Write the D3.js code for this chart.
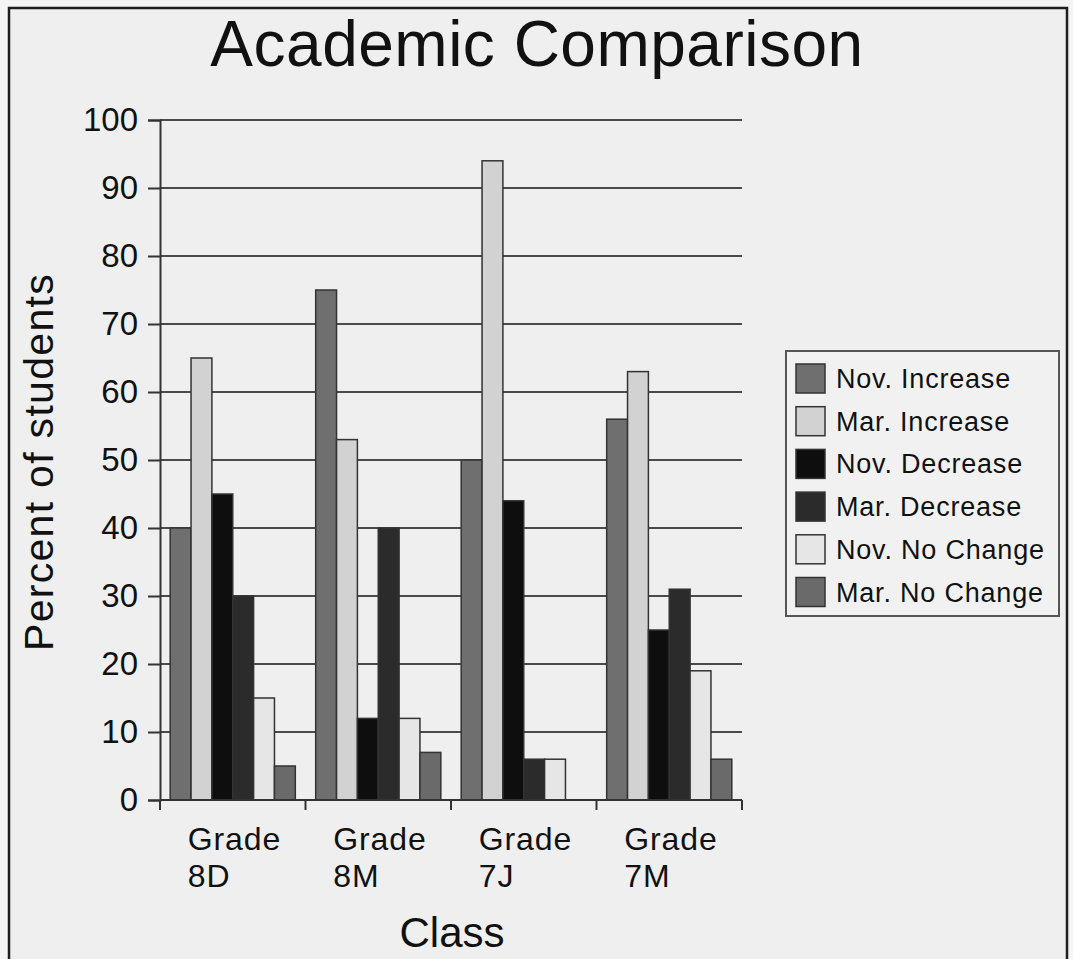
<!DOCTYPE html>
<html><head><meta charset="utf-8">
<script src="https://cdn.jsdelivr.net/npm/d3@7"></script>
<style>html,body{margin:0;padding:0;background:#fff;}svg{display:block;}</style>
</head><body>
<script>
const categories = ["Grade 8D", "Grade 8M", "Grade 7J", "Grade 7M"];
const seriesNames = ["Nov. Increase", "Mar. Increase", "Nov. Decrease", "Mar. Decrease", "Nov. No Change", "Mar. No Change"];
const novIncrease = [40, 75, 50, 56];
const marIncrease = [65, 53, 94, 63];
const novDecrease = [45, 12, 44, 25];
const marDecrease = [30, 40, 6, 31];
const novNoChange = [15, 12, 6, 19];
const marNoChange = [5, 7, 0, 6];
const yTicks = [0, 10, 20, 30, 40, 50, 60, 70, 80, 90, 100];
const seriesValues = [novIncrease, marIncrease, novDecrease, marDecrease, novNoChange, marNoChange];
const colors = ["#6f6f6f", "#d2d2d2", "#0e0e0e", "#2b2b2b", "#e6e6e6", "#6a6a6a"];

const W = 1073, H = 959;
const svg = d3.select("body").append("svg").attr("width", W).attr("height", H);
svg.append("rect").attr("x", 0).attr("y", 0).attr("width", W).attr("height", H).attr("fill", "#f4f4f4");
svg.append("rect").attr("x", 9).attr("y", 8).attr("width", 1058).attr("height", 960)
  .attr("fill", "#efefef").attr("stroke", "#1e1e1e").attr("stroke-width", 2.5);

const pL = 160, pR = 742, pT = 120, pB = 800;
const x0 = d3.scaleBand().domain(categories).range([pL, pR]).paddingInner(0.14).paddingOuter(0.07);
const x1 = d3.scaleBand().domain(seriesNames).range([0, x0.bandwidth()]);
const y = d3.scaleLinear().domain([0, 100]).range([pB, pT]);
const font = "'Liberation Sans', Arial, sans-serif";

// gridlines
svg.append("g").selectAll("line").data(yTicks.filter(d => d > 0)).join("line")
  .attr("x1", pL).attr("x2", pR).attr("y1", d => y(d)).attr("y2", d => y(d))
  .attr("stroke", "#4a4a4a").attr("stroke-width", 2);

// bars
const groups = svg.append("g").selectAll("g").data(categories).join("g")
  .attr("transform", c => `translate(${x0(c)},0)`);
groups.selectAll("rect").data((c, ci) => seriesNames.map((s, si) => ({s, si, v: seriesValues[si][ci]})))
  .join("rect")
  .attr("x", d => x1(d.s)).attr("width", x1.bandwidth())
  .attr("y", d => y(d.v)).attr("height", d => y(0) - y(d.v))
  .attr("fill", d => colors[d.si]).attr("stroke", "#333").attr("stroke-width", 1.5)
  .attr("display", d => d.v > 0 ? null : "none");

// y axis
const yAxis = d3.axisLeft(y).tickValues(yTicks).tickSize(12).tickPadding(10);
const ga = svg.append("g").attr("transform", `translate(${pL},0)`).call(yAxis);
ga.select(".domain").attr("stroke", "#333").attr("stroke-width", 2);
ga.selectAll(".tick line").attr("stroke", "#333").attr("stroke-width", 2);
ga.selectAll(".tick text").attr("font-family", font).attr("font-size", 33).attr("fill", "#111");

// x axis
const xb = svg.append("g");
xb.append("line").attr("x1", pL).attr("x2", pR).attr("y1", pB).attr("y2", pB)
  .attr("stroke", "#333").attr("stroke-width", 2);
const tickXs = categories.map(c => x0(c) - x0.step() * x0.paddingInner() / 2).concat([pR]);
xb.selectAll("line.t").data(tickXs).join("line").attr("class", "t")
  .attr("x1", d => d).attr("x2", d => d).attr("y1", pB).attr("y2", pB + 10)
  .attr("stroke", "#333").attr("stroke-width", 2);
const lab = xb.selectAll("text.c").data(categories).join("text").attr("class", "c")
  .attr("font-family", font).attr("font-size", 32).attr("letter-spacing", 0.9).attr("fill", "#111");
lab.append("tspan").attr("x", c => x0(c) + x0.bandwidth() / 2 - 45).attr("y", 850).text(c => c.split(" ")[0]);
lab.append("tspan").attr("x", c => x0(c) + x0.bandwidth() / 2 - 45).attr("y", 887).text(c => c.split(" ")[1]);

// titles
svg.append("text").attr("x", 537).attr("y", 66).attr("text-anchor", "middle")
  .attr("font-family", font).attr("font-size", 64).attr("letter-spacing", 0.5).attr("fill", "#111").text("Academic Comparison");
svg.append("text").attr("x", 452).attr("y", 947).attr("text-anchor", "middle")
  .attr("font-family", font).attr("font-size", 42).attr("fill", "#111").text("Class");
svg.append("text").attr("transform", "translate(53,462) rotate(-90)").attr("text-anchor", "middle")
  .attr("font-family", font).attr("font-size", 41).attr("letter-spacing", 1.3).attr("fill", "#111").text("Percent of students");

// legend
const lg = svg.append("g");
lg.append("rect").attr("x", 786).attr("y", 351).attr("width", 273).attr("height", 265)
  .attr("fill", "#f1f1f1").attr("stroke", "#555").attr("stroke-width", 2);
const items = lg.selectAll("g").data(seriesNames).join("g")
  .attr("transform", (d, i) => `translate(796,${364 + i * 42.7})`);
items.append("rect").attr("width", 29).attr("height", 29)
  .attr("fill", (d, i) => colors[i]).attr("stroke", "#333").attr("stroke-width", 1.5);
items.append("text").attr("x", 40).attr("y", 24).attr("font-family", font).attr("font-size", 27)
  .attr("letter-spacing", 0.8).attr("fill", "#111").text(d => d);
</script>
</body></html>
